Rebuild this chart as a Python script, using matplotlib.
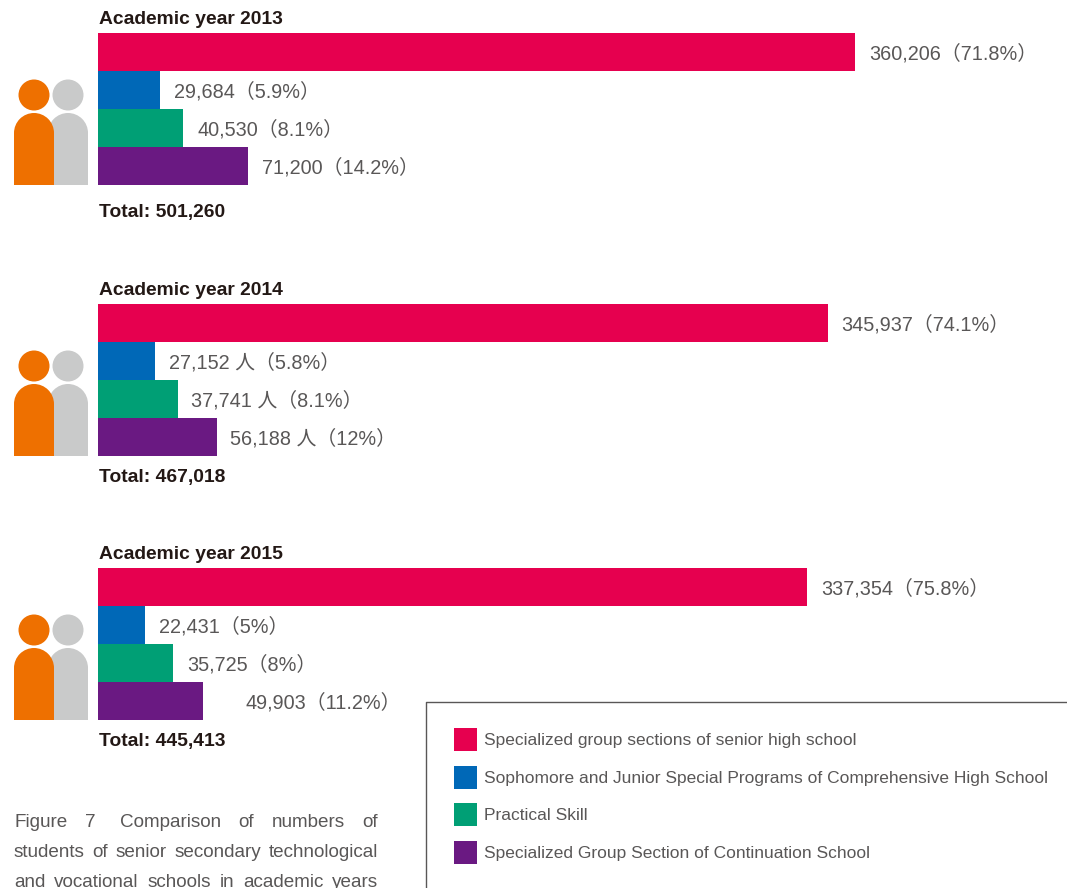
#!/usr/bin/python3
# enrolment by programme type, three academic years
import matplotlib
matplotlib.use("Agg")
import matplotlib.pyplot as plt
from matplotlib.patches import Circle, Rectangle, Wedge

plt.rcParams['font.family'] = ['Liberation Sans', 'Noto Sans CJK JP', 'DejaVu Sans']

years = ["Academic year 2013", "Academic year 2014", "Academic year 2015"]
totals = ["Total: 501,260", "Total: 467,018", "Total: 445,413"]
values_2013 = [360206, 29684, 40530, 71200]
values_2014 = [345937, 27152, 37741, 56188]
values_2015 = [337354, 22431, 35725, 49903]
labels_2013 = ["360,206（71.8%）", "29,684（5.9%）", "40,530（8.1%）", "71,200（14.2%）"]
labels_2014 = ["345,937（74.1%）", "27,152 人（5.8%）", "37,741 人（8.1%）", "56,188 人（12%）"]
labels_2015 = ["337,354（75.8%）", "22,431（5%）", "35,725（8%）", "49,903（11.2%）"]
programmes = ["Specialized group sections of senior high school",
              "Sophomore and Junior Special Programs of Comprehensive High School",
              "Practical Skill",
              "Specialized Group Section of Continuation School"]
caption = ["Figure 7   Comparison of numbers of",
           "students of senior secondary technological",
           "and vocational schools in academic years"]

colors = ["#E6004F", "#0068B7", "#009F75", "#6A1982"]
orange = "#EE7000"
gray = "#C9CACA"
c_label = "#595757"
c_bold = "#231815"

W, H = 1067, 888
X0 = 98
# pixels per student, the printed bars are not quite on one scale
px_per = [0.0021016, 0.0021090, 0.0021017]

fig = plt.figure(figsize=(W / 100, H / 100), dpi=100)

# pixel layer for icons, legend box, text
ax0 = fig.add_axes([0, 0, 1, 1])
ax0.set_xlim(0, W)
ax0.set_ylim(H, 0)
ax0.axis("off")

tops = [33, 304, 568]
title_y = [19, 290, 554]
total_y = [212, 477, 741]
all_values = [values_2013, values_2014, values_2015]
all_labels = [labels_2013, labels_2014, labels_2015]
# gap bar -> label in points
gaps_pt = [[10, 10, 10, 10], [10, 10, 10, 10], [10, 10, 10, 31]]


def person(x, top, w, color, z):
    r = w / 2
    ax0.add_patch(Wedge((x + r, top + r), r, 180, 360, color=color, lw=0, zorder=z))
    ax0.add_patch(Rectangle((x, top + r), w, 72 - r, color=color, lw=0, zorder=z))


for i in range(3):
    top = tops[i]
    # bars of one year, x axis in students
    ax = fig.add_axes([0, 0, 1, 1])
    ax.set_xlim(-X0 / px_per[i], (W - X0) / px_per[i])
    ax.set_ylim(H, 0)
    ax.axis("off")
    ax.patch.set_alpha(0)
    for j in range(4):
        y = top + 38 * j + 19
        ax.barh(y, all_values[i][j], height=38, color=colors[j], lw=0)
        ax.annotate(all_labels[i][j], (all_values[i][j], y), xytext=(gaps_pt[i][j], -1.5),
                    textcoords="offset points", va="center", ha="left",
                    fontsize=14.3, color=c_label)
    ax0.text(X0 + 1, title_y[i], years[i], fontsize=13.9, fontweight="bold",
             color=c_bold, va="center")
    ax0.text(X0 + 1, total_y[i], totals[i], fontsize=13.9, fontweight="bold",
             color=c_bold, va="center")
    # two people icon
    ax0.add_patch(Circle((68, top + 62), 15.5, color=gray, lw=0))
    ax0.add_patch(Circle((34, top + 62), 15.5, color=orange, lw=0))
    person(48, top + 80, 40, gray, 2)
    person(14, top + 80, 40, orange, 3)

# legend box, open on the right and at the bottom
ax0.plot([426, 426, W], [H, 701.5, 701.5], color="#595757", lw=1.0, clip_on=False)
leg_y = [739, 777, 814, 852]
for k in range(4):
    ax0.add_patch(Rectangle((454, leg_y[k] - 11.5), 23, 23, color=colors[k], lw=0))
    ax0.text(484, leg_y[k] + 1, programmes[k], fontsize=12.5, color=c_label, va="center")

# caption is justified between x=14 and x=378, so space the words by hand
cap_y = [822, 852, 882]
rend = fig.canvas.get_renderer()
for line, y in zip(caption, cap_y):
    words = line.split()
    items = []
    widths = 0
    for w in words:
        t = ax0.text(0, y, w, fontsize=13.6, color=c_label, va="center")
        items.append(t)
        widths += t.get_window_extent(rend).width
    # the gap after "Figure 7" is a bit wider
    gaps = len(items) - 1
    extra = 0.4 if line.startswith("Figure") else 0
    gap = (378 - 14 - widths) / (gaps + extra)
    x = 14
    for n, t in enumerate(items):
        t.set_x(x)
        x += t.get_window_extent(rend).width + gap
        if extra and n == 1:
            x += gap * extra

fig.savefig("out.png", dpi=100)
